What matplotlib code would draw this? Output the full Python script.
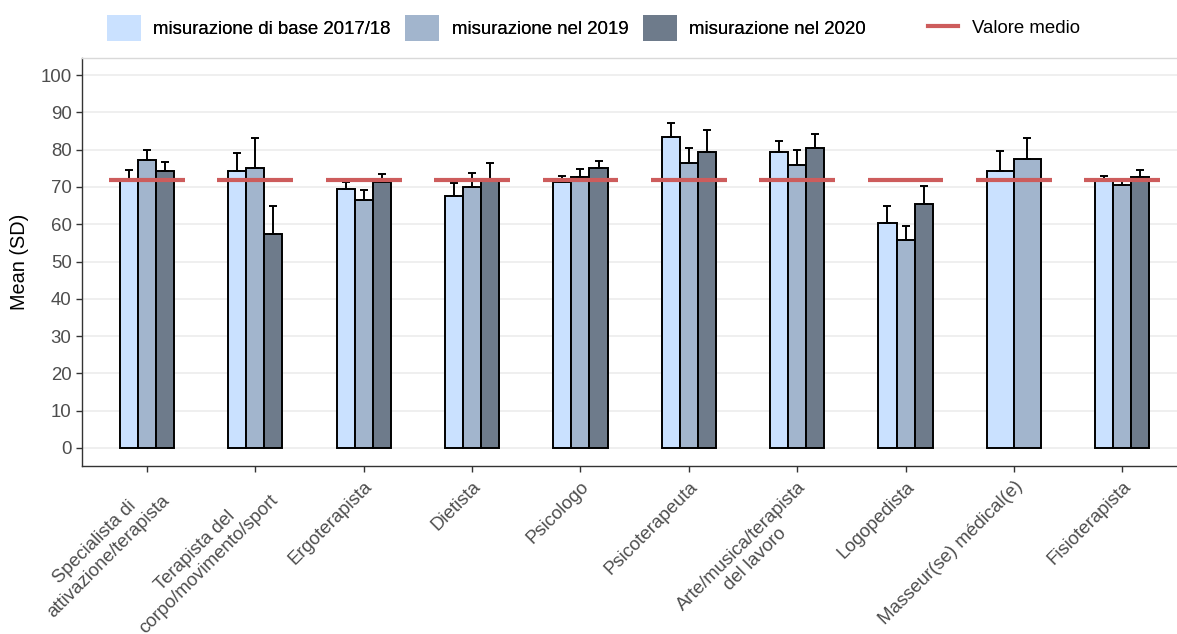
import numpy as np
import matplotlib
matplotlib.use('Agg')
import matplotlib.pyplot as plt
from matplotlib.patches import Patch
from matplotlib.lines import Line2D

plt.rcParams['font.family'] = ['Liberation Sans', 'DejaVu Sans']

categories = ['Specialista di\nattivazione/terapista', 'Terapista del\ncorpo/movimento/sport',
              'Ergoterapista', 'Dietista', 'Psicologo', 'Psicoterapeuta',
              'Arte/musica/terapista\ndel lavoro', 'Logopedista', 'Masseur(se) médical(e)',
              'Fisioterapista']

base_mean = [72.0, 74.4, 69.4, 67.7, 71.3, 83.3, 79.4, 60.2, 74.2, 71.8]
base_sd = [2.5, 4.8, 1.9, 3.3, 1.6, 3.8, 2.8, 4.8, 5.5, 1.1]
m2019_mean = [77.3, 75.1, 66.4, 70.0, 72.8, 76.5, 76.0, 55.9, 77.4, 70.4]
m2019_sd = [2.5, 7.9, 2.7, 3.8, 1.9, 3.9, 4.0, 3.6, 5.6, 1.6]
m2020_mean = [74.2, 57.5, 71.2, 72.1, 75.0, 79.5, 80.4, 65.5, None, 72.8]
m2020_sd = [2.5, 7.3, 2.3, 4.4, 2.0, 5.9, 3.9, 4.7, None, 1.8]
overall_mean = 71.9

series_labels = ['misurazione di base 2017/18', 'misurazione nel 2019', 'misurazione nel 2020']
colors = ['#CAE1FF', '#A2B5CD', '#6E7B8B']
mean_color = '#CD5C5C'

fig = plt.figure(figsize=(11.77, 6.34), dpi=100)
ax = fig.add_axes([82 / 1177, 168.3 / 634, (1187.3 - 82) / 1177, (575.7 - 168.3) / 634])

group_width = 0.5
all_means = [base_mean, m2019_mean, m2020_mean]
all_sds = [base_sd, m2019_sd, m2020_sd]

for i in range(len(categories)):
    present = [s for s in range(3) if all_means[s][i] is not None]
    n = len(present)
    w = group_width / n
    for k, s in enumerate(present):
        x = i - group_width / 2 + w * (k + 0.5)
        m = all_means[s][i]
        sd = all_sds[s][i]
        ax.bar(x, m, width=w, color=colors[s], edgecolor='black', linewidth=1.4, zorder=2)
        ax.errorbar(x, m, yerr=[[0], [sd]], fmt='none', ecolor='black',
                    elinewidth=1.4, capsize=2.7, capthick=1.4, zorder=3)
    # mean line
    ax.plot([i - 0.35, i + 0.35], [overall_mean, overall_mean], color=mean_color,
            linewidth=3, solid_capstyle='butt', zorder=4)

ax.set_xlim(-0.6, len(categories) - 0.4)
ax.set_ylim(-4.75, 104.5)
ax.set_yticks(np.arange(0, 101, 10))
ax.set_xticks(np.arange(len(categories)))
ax.set_xticklabels(categories, rotation=45, ha='right', rotation_mode='anchor',
                   multialignment='center')
ax.tick_params(axis='both', labelsize=13.4, labelcolor='#4d4d4d', color='#333333',
               length=4, width=1)
ax.tick_params(axis='x', pad=5)
ax.yaxis.grid(True, color='#ebebeb', linewidth=1.1, zorder=0)
ax.set_axisbelow(True)
for side in ['left', 'bottom']:
    ax.spines[side].set_color('#333333')
    ax.spines[side].set_linewidth(1)
ax.spines['top'].set_color('#d9d9d9')
ax.spines['top'].set_linewidth(1)
ax.spines['right'].set_visible(False)
ax.set_ylabel('Mean (SD)', fontsize=14.3, color='black', labelpad=8)

handles = [Patch(facecolor=c, edgecolor='none') for c in colors]
leg1 = fig.legend(handles, series_labels, loc='center left', bbox_to_anchor=(107 / 1177, 1 - 28 / 634),
                  ncol=3, frameon=False, fontsize=13.4, handlelength=1.83, handleheight=1.83,
                  handletextpad=0.65, columnspacing=0.8, borderpad=0, borderaxespad=0)
fig.add_artist(leg1)
fig.legend([Line2D([0], [0], color=mean_color, linewidth=3)], ['Valore medio'],
           loc='center left', bbox_to_anchor=(928 / 1177, 1 - 28 / 634), frameon=False,
           fontsize=13.4, handlelength=1.6, handletextpad=0.75, borderpad=0, borderaxespad=0)

plt.savefig('out.png', dpi=100)
